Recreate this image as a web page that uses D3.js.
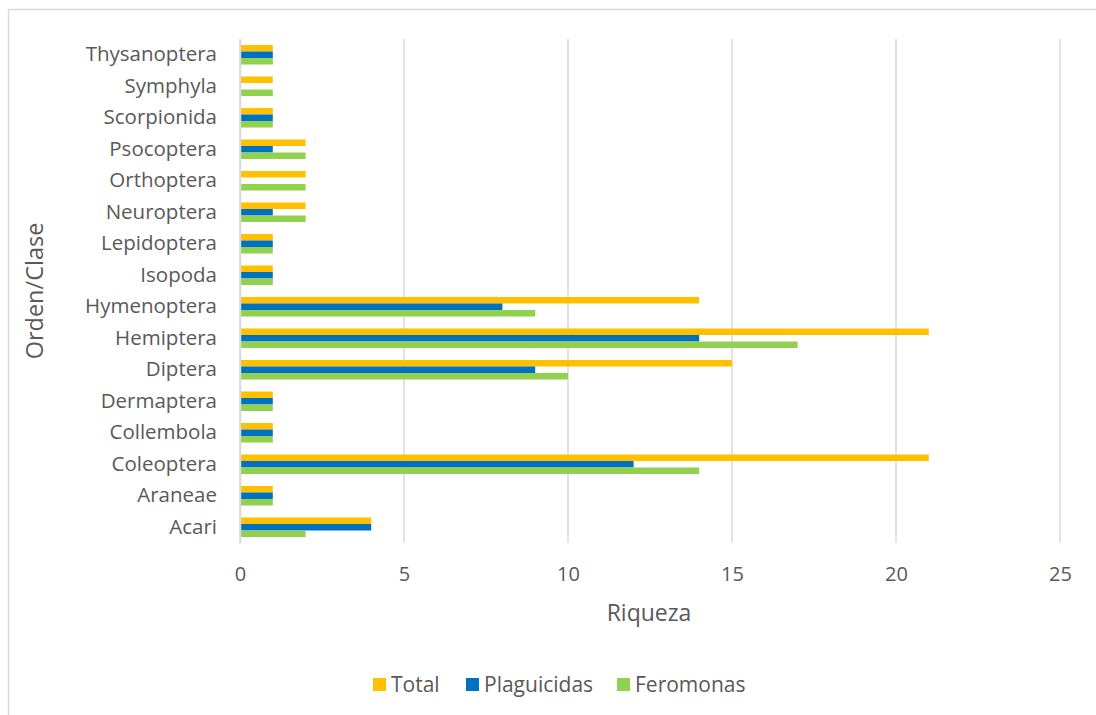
<!DOCTYPE html>
<html>
<head>
<meta charset="utf-8">
<script src="https://cdn.jsdelivr.net/npm/d3@7"></script>
<style>
  body { margin: 0; background: #fff; }
  svg text { font-family: "Open Sans", "Noto Sans", sans-serif; fill: #595959; }
</style>
</head>
<body>
<div class="svg-container"></div>
<script>
// categories top to bottom
let categories = ['Thysanoptera', 'Symphyla', 'Scorpionida', 'Psocoptera', 'Orthoptera',
  'Neuroptera', 'Lepidoptera', 'Isopoda', 'Hymenoptera', 'Hemiptera', 'Diptera',
  'Dermaptera', 'Collembola', 'Coleoptera', 'Araneae', 'Acari']
let seriesNames = ['Total', 'Plaguicidas', 'Feromonas']
let total       = [1, 1, 1, 2, 2, 2, 1, 1, 14, 21, 15, 1, 1, 21, 1, 4]
let plaguicidas = [1, 0, 1, 1, 0, 1, 1, 1, 8, 14, 9, 1, 1, 12, 1, 4]
let feromonas   = [1, 1, 1, 2, 2, 2, 1, 1, 9, 17, 10, 1, 1, 14, 1, 2]
let xTicks = [0, 5, 10, 15, 20, 25]
let colors = ['#FFC000', '#0070C0', '#92D050']

let width = 1096
let height = 715
let plotLeft = 240, plotRight = 1060, plotTop = 39, plotBottom = 543

let svg = d3.select('.svg-container')
  .append('svg')
  .attr('width', width)
  .attr('height', height)

// chart border
svg.append('rect')
  .attr('x', 8.5).attr('y', 9.5)
  .attr('width', 1200).attr('height', 800)
  .attr('fill', 'none')
  .attr('stroke', '#D9D9D9')
  .attr('stroke-width', 1.5)

let xScale = d3.scaleLinear()
  .domain([0, 25])
  .range([plotLeft, plotRight])

let yScale = d3.scaleBand()
  .domain(categories)
  .range([plotTop, plotBottom])
  .paddingInner(0.38)
  .paddingOuter(0.19)

let inner = d3.scaleBand()
  .domain(seriesNames)
  .range([0, yScale.bandwidth()])

// gridlines
svg.append('g')
  .selectAll('line')
  .data(xTicks)
  .enter()
  .append('line')
  .attr('x1', d => xScale(d))
  .attr('x2', d => xScale(d))
  .attr('y1', plotTop)
  .attr('y2', plotBottom)
  .attr('stroke', '#D9D9D9')
  .attr('stroke-width', 1.5)

let rows = categories.map((c, i) => ({
  name: c,
  values: [total[i], plaguicidas[i], feromonas[i]]
}))

let groups = svg.append('g')
  .selectAll('g')
  .data(rows)
  .enter()
  .append('g')
  .attr('transform', d => `translate(0, ${yScale(d.name)})`)

groups.selectAll('rect')
  .data(d => d.values.map((v, j) => ({ series: seriesNames[j], value: v, color: colors[j] })))
  .enter()
  .append('rect')
  .attr('x', xScale(0))
  .attr('y', d => inner(d.series))
  .attr('width', d => xScale(d.value) - xScale(0))
  .attr('height', inner.bandwidth())
  .attr('fill', d => d.color)

// x axis labels
let xAxis = d3.axisBottom(xScale).tickValues(xTicks).tickSize(0).tickPadding(24)
let gx = svg.append('g')
  .attr('transform', `translate(0, ${plotBottom})`)
  .call(xAxis)
gx.select('.domain').remove()
gx.selectAll('text')
  .style('font-size', '20px')
  .attr('fill', '#595959')

// y axis labels
let yAxis = d3.axisLeft(yScale).tickSize(0).tickPadding(23)
let gy = svg.append('g')
  .attr('transform', `translate(${plotLeft}, 0)`)
  .call(yAxis)
gy.select('.domain')
  .attr('stroke', '#D9D9D9')
  .attr('stroke-width', 1.5)
gy.selectAll('text')
  .style('font-size', '20.5px')
  .attr('fill', '#595959')

svg.append('text')
  .attr('x', (plotLeft + plotRight) / 2 - 1)
  .attr('y', 621)
  .style('text-anchor', 'middle')
  .style('font-size', '23px')
  .text('Riqueza')

svg.append('text')
  .attr('transform', `translate(43, ${(plotTop + plotBottom) / 2}) rotate(-90)`)
  .style('text-anchor', 'middle')
  .style('font-size', '23.5px')
  .text('Orden/Clase')

// legend
let legendX = [373, 466, 617]
let legend = svg.append('g')
  .selectAll('g')
  .data(seriesNames)
  .enter()
  .append('g')
  .attr('transform', (d, i) => `translate(${legendX[i]}, 678)`)

legend.append('rect')
  .attr('width', 13)
  .attr('height', 13)
  .attr('fill', (d, i) => colors[i])

legend.append('text')
  .attr('x', 18)
  .attr('y', 14)
  .style('font-size', '21px')
  .text(d => d)
</script>
</body>
</html>
